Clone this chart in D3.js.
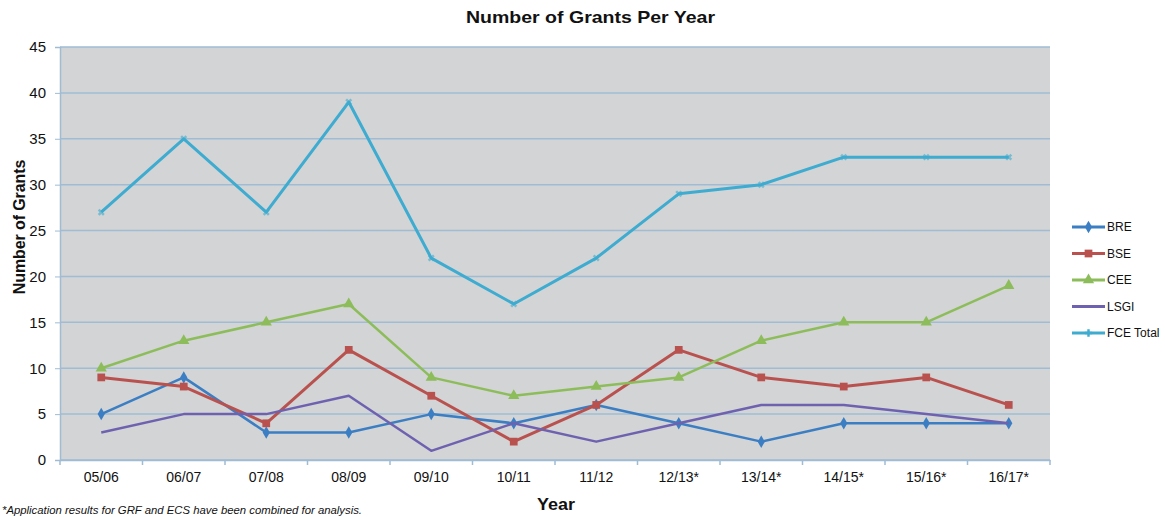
<!DOCTYPE html>
<html>
<head>
<meta charset="utf-8">
<script src="https://cdn.jsdelivr.net/npm/d3@7"></script>
<style>
  body { margin: 0; background: #fff; }
  text { font-family: "Liberation Sans", Arial, sans-serif; fill: #111; }
</style>
</head>
<body>
<svg width="1165" height="517"></svg>
<script>
var years = ["05/06", "06/07", "07/08", "08/09", "09/10", "10/11", "11/12", "12/13*", "13/14*", "14/15*", "15/16*", "16/17*"];
var bre = [5, 9, 3, 3, 5, 4, 6, 4, 2, 4, 4, 4];
var bse = [9, 8, 4, 12, 7, 2, 6, 12, 9, 8, 9, 6];
var cee = [10, 13, 15, 17, 9, 7, 8, 9, 13, 15, 15, 19];
var lsgi = [3, 5, 5, 7, 1, 4, 2, 4, 6, 6, 5, 4];
var fceTotal = [27, 35, 27, 39, 22, 17, 22, 29, 30, 33, 33, 33];
var seriesNames = ["BRE", "BSE", "CEE", "LSGI", "FCE Total"];
var yTicks = [0, 5, 10, 15, 20, 25, 30, 35, 40, 45];

var series = [
  {name: seriesNames[0], values: bre, color: "#3b7ec3", marker: "diamond", width: 2.5},
  {name: seriesNames[1], values: bse, color: "#b9524f", marker: "square", width: 3},
  {name: seriesNames[2], values: cee, color: "#8dbd5a", marker: "triangle", width: 2.5},
  {name: seriesNames[3], values: lsgi, color: "#6e62b0", marker: "none", width: 2.5},
  {name: seriesNames[4], values: fceTotal, color: "#3eabd0", marker: "star", width: 3}
];

var svg = d3.select("svg"),
    margin = {top: 47, right: 115, bottom: 57, left: 60},
    width = 1165 - margin.left - margin.right,
    height = 517 - margin.top - margin.bottom;

var g = svg.append("g").attr("transform", "translate(" + margin.left + "," + margin.top + ")");

var x = d3.scaleBand().domain(years).range([0, width]),
    y = d3.scaleLinear().domain([0, 45]).range([height, 0]);

// plot background
g.append("rect")
    .attr("width", width)
    .attr("height", height)
    .attr("fill", "#d3d4d5");

// gridlines
g.append("g").selectAll("line")
    .data(yTicks)
    .enter().append("line")
      .attr("x1", 0)
      .attr("x2", width)
      .attr("y1", function(d) { return y(d); })
      .attr("y2", function(d) { return y(d); })
      .attr("stroke", "#9fbcd4")
      .attr("stroke-width", 1.5);

// y axis
var yAxis = g.append("g")
    .call(d3.axisLeft(y).tickValues(yTicks).tickSize(5).tickPadding(9));
yAxis.select(".domain").attr("stroke", "#9fbcd4").attr("stroke-width", 1.5);
yAxis.selectAll(".tick line").attr("stroke", "#9fbcd4");
yAxis.selectAll("text").style("font-size", "15px").attr("fill", "#111");

// x axis, ticks on category boundaries
var xAxis = g.append("g")
    .attr("transform", "translate(0," + height + ")")
    .call(d3.axisBottom(x).tickSize(0).tickPadding(12));
xAxis.select(".domain").attr("stroke", "#9fbcd4").attr("stroke-width", 1.5);
xAxis.selectAll("text").style("font-size", "14px").attr("fill", "#111");
xAxis.selectAll(".bound")
    .data(d3.range(years.length + 1))
    .enter().append("line")
      .attr("class", "bound")
      .attr("x1", function(i) { return i * x.step(); })
      .attr("x2", function(i) { return i * x.step(); })
      .attr("y1", 0)
      .attr("y2", 5)
      .attr("stroke", "#9fbcd4")
      .attr("stroke-width", 1.5);

var line = d3.line()
    .x(function(d, i) { return x(years[i]) + x.bandwidth() / 2; })
    .y(function(d) { return y(d); });

function symbolFor(m) {
  if (m == "diamond") return d3.symbol().type(d3.symbolDiamond).size(45);
  if (m == "square") return d3.symbol().type(d3.symbolSquare).size(60);
  if (m == "triangle") return d3.symbol().type(d3.symbolTriangle).size(55);
  if (m == "star") return d3.symbol().type(d3.symbolCross).size(30);
  return null;
}

series.forEach(function(s) {
  var sg = g.append("g");
  sg.append("path")
      .datum(s.values)
      .attr("d", line)
      .attr("fill", "none")
      .attr("stroke", s.color)
      .attr("stroke-width", s.width)
      .attr("stroke-linejoin", "round");
  var sym = symbolFor(s.marker);
  if (sym) {
    sg.selectAll("path.mk")
      .data(s.values)
      .enter().append("path")
        .attr("class", "mk")
        .attr("d", sym)
        .attr("transform", function(d, i) {
          var rot = s.marker == "star" ? " rotate(45)" : "";
          return "translate(" + (x(years[i]) + x.bandwidth() / 2) + "," + y(d) + ")" + rot;
        })
        .attr("fill", s.color)
        .attr("opacity", s.marker == "star" ? 0.6 : 1);
  }
});

// legend
var legend = svg.append("g").attr("transform", "translate(1072,227)");
var item = legend.selectAll("g")
    .data(series)
    .enter().append("g")
      .attr("transform", function(d, i) { return "translate(0," + (i * 26.5) + ")"; });
item.append("line")
    .attr("x1", 0).attr("x2", 33)
    .attr("stroke", function(d) { return d.color; })
    .attr("stroke-width", 3);
item.append("path")
    .attr("d", function(d) { var s = symbolFor(d.marker); return s ? s() : null; })
    .attr("transform", "translate(16.5,0)")
    .attr("fill", function(d) { return d.color; });
item.append("text")
    .attr("x", 35)
    .attr("dy", "0.35em")
    .style("font-size", "12px")
    .text(function(d) { return d.name; });

// titles
svg.append("text")
    .attr("x", 466)
    .attr("y", 23)
    .attr("textLength", 249)
    .attr("lengthAdjust", "spacingAndGlyphs")
    .style("font-size", "17px")
    .style("font-weight", "bold")
    .text("Number of Grants Per Year");

svg.append("text")
    .attr("transform", "translate(25,227) rotate(-90)")
    .attr("text-anchor", "middle")
    .style("font-size", "16px")
    .style("font-weight", "bold")
    .style("letter-spacing", "-0.1px")
    .text("Number of Grants");

svg.append("text")
    .attr("x", 537)
    .attr("y", 510)
    .attr("textLength", 38)
    .attr("lengthAdjust", "spacingAndGlyphs")
    .style("font-size", "17px")
    .style("font-weight", "bold")
    .text("Year");

svg.append("text")
    .attr("x", 2)
    .attr("y", 514)
    .attr("textLength", 360)
    .attr("lengthAdjust", "spacingAndGlyphs")
    .style("font-size", "11px")
    .style("font-style", "italic")
    .text("*Application results for GRF and ECS have been combined for analysis.");
</script>
</body>
</html>
